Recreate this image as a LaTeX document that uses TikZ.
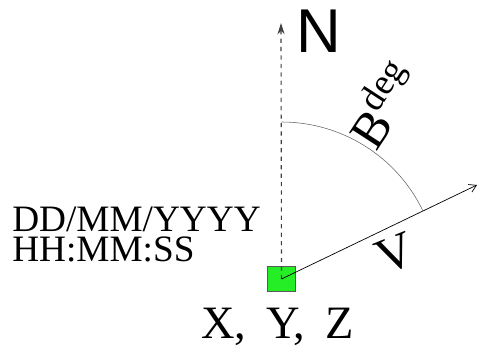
\documentclass[tikz,border=0pt]{standalone}
\usepackage{fontspec}
\setmainfont{Liberation Serif}
\newfontfamily\northfont{Liberation Sans}
\usetikzlibrary{arrows.meta}
\begin{document}
\begin{tikzpicture}[x=0.025cm, y=0.025cm,
    lbl/.style={inner sep=0pt, anchor=base west, font=\fontsize{26.5}{30}\selectfont},
    big/.style={inner sep=0pt, font=\fontsize{33}{36}\selectfont},
    ptbox/.style={draw=black!65, line width=0.7pt, fill={rgb,255:red,38;green,238;blue,38}, minimum width=0.69cm, minimum height=0.63cm, inner sep=0pt},
    northline/.style={-{Stealth[length=8pt,width=5pt,inset=2.5pt]}, dashed, black!75, line width=0.8pt},
    speedline/.style={-{Straight Barb[length=5pt,width=6pt]}, line width=0.5pt}
]
  \useasboundingbox (0,0) rectangle (478,354);
  % Punto observado y extremos de las flechas
  \node[ptbox] (pt) at (281.5,75) {};
  \coordinate (ntip) at (281,331);
  \coordinate (vtip) at (477,169);
  \coordinate (arcstart) at (281.5,232);

  % Norte (discontinua) y velocidad
  \draw[northline] (pt.center) -- (ntip);
  \draw[speedline] (pt.center) -- (vtip);
  % Arco del rumbo
  \draw[black!60, line width=0.4pt] (arcstart) arc[start angle=90, end angle=25.6, radius=157];

  % Rotulos
  \node[inner sep=0pt, rotate=57, font=\fontsize{36}{38}\selectfont] (bear) at (381,250)
       {B\raisebox{15pt}{\fontsize{26}{28}\selectfont deg}};
  \node[inner sep=0pt, font=\northfont\fontsize{44}{50}\selectfont] (north) at (319,323) {N};
  \node[inner sep=0pt, rotate=22, font=\fontsize{36}{40}\selectfont] (spd) at (395,100) {V};
  \node[lbl] (date) at (12,122) {DD/MM/YYYY};
  \node[lbl] (time) at (12,92) {HH:MM:SS};
  \node[big, anchor=base] (xyz) at (277.5,16) {X,\hspace{6pt} Y,\hspace{6pt} Z};
\end{tikzpicture}
\end{document}
